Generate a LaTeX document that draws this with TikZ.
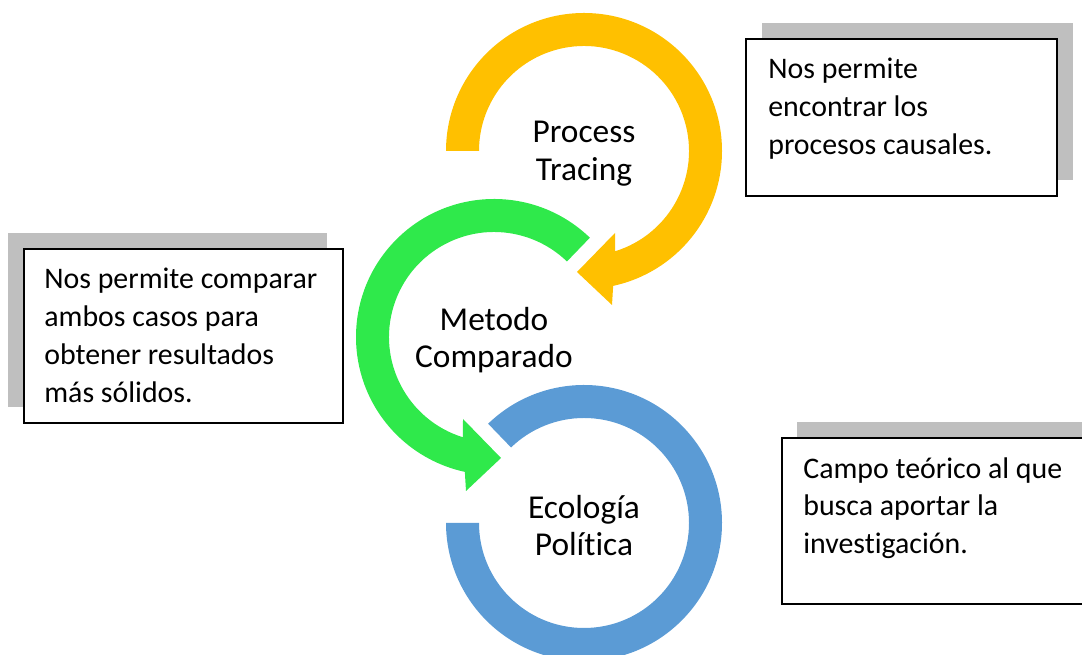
\documentclass[tikz,border=0pt]{standalone}
\usepackage{fontspec}
\setmainfont{Carlito}[Ligatures=NoCommon]
\usepackage{tikz}
\usetikzlibrary{shadows}

\definecolor{ringyellow}{RGB}{255,192,0}
\definecolor{ringgreen}{RGB}{47,233,75}
\definecolor{ringblue}{RGB}{91,155,213}
\definecolor{shadowgray}{RGB}{191,191,191}

\begin{document}
\begin{tikzpicture}[x=0.02cm,y=0.02cm]
\tikzstyle{ringlabel} = [font=\fontsize{19}{21.5}\selectfont, align=center]
\tikzstyle{notebox} = [draw=black, line width=1pt, fill=white, anchor=north west, inner sep=0pt]
\tikzstyle{notetext} = [font=\fontsize{17}{21.5}\selectfont, align=left, anchor=north west, inner sep=0pt]
\useasboundingbox (0,0) rectangle (1082,655);
\clip (0,0) rectangle (1082,655);

\coordinate (yc) at (584,504);
\coordinate (gc) at (494,318);
\coordinate (bc) at (584,132);

% rings
\begin{scope}[shift={(bc)}]
\fill[ringblue] (134:138) arc[start angle=134, end angle=-180, radius=138]
    -- (180:105) arc[start angle=-180, end angle=134, radius=105] -- cycle;
\end{scope}
\begin{scope}[shift={(gc)}]
\fill[ringgreen] (46:138) arc[start angle=46, end angle=257.8, radius=138]
    -- (-28,-154) -- (7,-121) -- (-31,-82)
    -- (252.8:105) arc[start angle=252.8, end angle=46, radius=105] -- cycle;
\end{scope}
\begin{scope}[shift={(yc)}]
\fill[ringyellow] (180:138) arc[start angle=180, end angle=-77.8, radius=138]
    -- (28,-154) -- (-7,-121) -- (31,-82)
    -- (-72.8:105) arc[start angle=-72.8, end angle=180, radius=105] -- cycle;
\end{scope}

\node[ringlabel] (tracing) at ([yshift=-0.06cm]yc) {Process\\Tracing};
\node[ringlabel] (comparado) at ([yshift=-0.06cm]gc) {Metodo\\Comparado};
\node[ringlabel] (ecologia) at ([yshift=-0.05cm]bc) {Ecología\\Política};

% notes
\node[notebox, minimum width=6.22cm, minimum height=3.14cm,
    general shadow={fill=shadowgray, shadow xshift=0.32cm, shadow yshift=0.32cm}]
    (tracebox) at (745,617) {};
\node[notetext] (tracenote) at ([shift={(23,-20)}]tracebox.north west)
    {Nos permite\\encontrar los\\procesos causales.};

\node[notebox, minimum width=6.38cm, minimum height=3.48cm,
    general shadow={fill=shadowgray, shadow xshift=-0.32cm, shadow yshift=0.32cm}]
    (compbox) at (23,407) {};
\node[notetext] (compnote) at ([shift={(21,-20)}]compbox.north west)
    {Nos permite comparar\\ambos casos para\\obtener resultados\\más sólidos.};

\node[notebox, minimum width=6.4cm, minimum height=3.32cm,
    general shadow={fill=shadowgray, shadow xshift=0.3cm, shadow yshift=0.32cm}]
    (ecobox) at (781,218) {};
\node[notetext] (econote) at ([shift={(22,-20)}]ecobox.north west)
    {Campo teórico al que\\busca aportar la\\investigación.};
\end{tikzpicture}
\end{document}
